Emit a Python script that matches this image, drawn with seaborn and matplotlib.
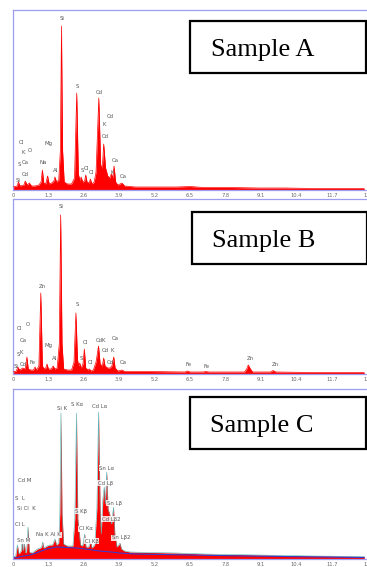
import numpy as np
import pandas as pd
import matplotlib
matplotlib.use("Agg")
import matplotlib.pyplot as plt
from matplotlib.patches import Rectangle
import seaborn as sns

sns.set_style("white")
plt.rcParams['font.family'] = ['DejaVu Sans']

# ---------------- data (energy keV, counts) ----------------
energy_A = [0.0, 0.15, 0.2, 0.26, 0.4, 0.45, 0.52, 0.6, 0.68, 0.8, 0.95, 1.03, 1.08, 1.13, 1.2,
            1.27, 1.33, 1.42, 1.5, 1.54, 1.6, 1.68, 1.74, 1.78, 1.82, 1.88, 2.0, 2.15, 2.26, 2.34,
            2.40, 2.46, 2.5, 2.56, 2.63, 2.67, 2.72, 2.8, 2.84, 2.9, 2.98, 3.05, 3.15, 3.22, 3.28,
            3.33, 3.4, 3.48, 3.55, 3.61, 3.66, 3.71, 3.77, 3.85, 4.0, 4.1, 4.5, 5.0, 6.0, 6.5, 7.0,
            8.0, 9.0, 10.0, 11.0, 12.9]
counts_A = [3, 4, 8, 4, 5, 9, 5, 7, 4, 4, 5, 8, 20, 7, 6,
            14, 6, 7, 9, 13, 8, 10, 40, 164, 40, 8, 6, 6, 12, 97,
            16, 9, 13, 8, 9, 15, 8, 7, 11, 6, 8, 18, 92, 25, 22,
            46, 22, 14, 12, 16, 12, 24, 8, 5, 7, 4, 3, 3, 3, 3.5, 2.5,
            2.5, 2, 2, 1.5, 1.5]

energy_B = [0.0, 0.12, 0.18, 0.24, 0.3, 0.36, 0.45, 0.51, 0.56, 0.65, 0.75, 0.81, 0.86, 0.95,
            1.02, 1.08, 1.15, 1.2, 1.25, 1.3, 1.4, 1.48, 1.53, 1.62, 1.7, 1.75, 1.8, 1.86, 2.0,
            2.15, 2.24, 2.31, 2.37, 2.41, 2.45, 2.5, 2.57, 2.62, 2.67, 2.76, 2.81, 2.86, 2.95,
            3.05, 3.14, 3.2, 3.28, 3.33, 3.38, 3.48, 3.56, 3.63, 3.7, 3.75, 3.85, 4.0, 4.1, 5.0,
            6.3, 6.41, 6.5, 7.0, 7.06, 7.2, 8.5, 8.58, 8.64, 8.72, 8.8, 9.45, 9.55, 9.65, 11.0, 12.9]
counts_B = [2, 3, 7, 4, 5, 6, 5, 17, 5, 4, 4, 7, 4, 8,
            81, 8, 5, 6, 10, 5, 5, 8, 5, 6, 30, 159, 30, 5, 4,
            4, 12, 61, 14, 8, 11, 6, 10, 25, 6, 4, 5, 3, 4,
            12, 28, 10, 8, 16, 8, 6, 6, 8, 17, 6, 3, 4, 2.5, 2.5,
            2, 3, 2, 2, 2.5, 2, 2, 5, 9, 5, 2, 2, 3.5, 2, 1.5, 1.5]

energy_C = [0.0, 0.1, 0.16, 0.22, 0.3, 0.33, 0.37, 0.41, 0.46, 0.5, 0.55, 0.6, 0.7, 0.8, 0.9,
            1.0, 1.05, 1.09, 1.13, 1.25, 1.35, 1.45, 1.54, 1.6, 1.68, 1.72, 1.76, 1.8, 1.86, 2.0,
            2.2, 2.27, 2.33, 2.38, 2.43, 2.48, 2.56, 2.63, 2.68, 2.78, 2.85, 2.9, 3.0, 3.08, 3.14,
            3.2, 3.24, 3.3, 3.35, 3.39, 3.44, 3.49, 3.55, 3.62, 3.69, 3.74, 3.82, 3.88, 3.93, 3.98,
            4.1, 4.3, 5.0, 6.0, 7.0, 8.0, 9.0, 10.0, 11.0, 12.9]
counts_C = [2, 3, 14, 5, 8, 19, 8, 17, 6, 8, 32, 7, 6, 8, 10,
            11, 12, 17, 11, 13, 14, 14, 20, 14, 16, 45, 146, 45, 15, 13,
            13, 40, 146, 40, 27, 14, 13, 25, 12, 12, 18, 11, 14, 50, 147,
            50, 25, 60, 72, 55, 87, 50, 45, 35, 52, 25, 12, 14, 16, 10,
            8, 7, 6.5, 6, 5, 4.5, 4, 3.5, 3, 2.5]

bg_energy_C = [0.05, 0.15, 0.3, 0.63, 0.9, 1.24, 1.6, 2.0, 2.33, 2.8, 3.18, 3.6, 3.9, 4.5, 5.5,
               6.5, 7.5, 8.5, 9.5, 10.5, 11.5, 12.9]
bg_counts_C = [1, 1.5, 2.5, 4, 6.5, 10, 12, 11.5, 11, 9.5, 8, 7, 6, 5, 4.5,
               4, 3.5, 3, 2.7, 2.3, 2, 1.5]

labels_A = [("Si", 1.81, 171), ("S", 2.38, 104), ("Cd", 3.18, 98), ("Cd", 3.58, 73),
            ("K", 3.36, 65), ("Cd", 3.40, 53), ("Ca", 3.76, 29), ("K", 3.64, 18),
            ("Ca", 4.05, 14), ("Cl", 0.29, 48), ("K", 0.37, 37), ("O", 0.63, 39),
            ("Mg", 1.32, 46), ("Na", 1.11, 27), ("S", 0.23, 25), ("Ca", 0.45, 27),
            ("Cd", 0.45, 15), ("Si", 0.19, 10), ("Al", 1.57, 20), ("S", 2.55, 19),
            ("Cl", 2.71, 22), ("Cl", 2.88, 17)]
labels_B = [("Si", 1.77, 167), ("Zn", 1.06, 88), ("S", 2.35, 69), ("Cl", 0.23, 45),
            ("O", 0.56, 50), ("Ca", 0.37, 33), ("Mg", 1.30, 29), ("S", 0.19, 20),
            ("K", 0.31, 22), ("Si", 0.10, 8), ("Cd", 0.39, 10), ("Fe", 0.72, 11),
            ("Al", 1.52, 15), ("Cl", 2.66, 32), ("CdK", 3.24, 33), ("Ca", 3.75, 36),
            ("Cd", 3.37, 23), ("K", 3.64, 23), ("S", 2.51, 15), ("Cl", 2.85, 12),
            ("Cd", 3.57, 12), ("Ca", 4.05, 11), ("Fe", 6.43, 9), ("Fe", 7.09, 8),
            ("Zn", 8.71, 15), ("Zn", 9.62, 10)]
labels_C = [("Si K", 1.80, 150), ("S Kα", 2.37, 155), ("Cd Lα", 3.18, 153), ("Cd M", 0.43, 78),
            ("S  L", 0.24, 61), ("Si Cl  K", 0.49, 50), ("Cl L", 0.27, 35), ("Sn M", 0.39, 18),
            ("Na K Al K", 1.31, 24), ("S Kβ", 2.51, 48), ("Cl Kα", 2.68, 30),
            ("Cl Kβ", 2.89, 18), ("Sn Lα", 3.44, 91), ("Cd Lβ", 3.39, 76),
            ("Sn Lβ", 3.72, 56), ("Cd Lβ2", 3.60, 40), ("Sn Lβ2", 3.97, 21)]

tick_values = [0, 1.3, 2.6, 3.9, 5.2, 6.5, 7.8, 9.1, 10.4, 11.7, 13]
tick_labels = ["0", "1.3", "2.6", "3.9", "5.2", "6.5", "7.8", "9.1", "10.4", "11.7", "13"]
sample_names = ["Sample A", "Sample B", "Sample C"]

# ---------------- layout (pixels) ----------------
W, H = 367, 567
fig = plt.figure(figsize=(W / 100, H / 100), dpi=100)

def px_axes(left, top, right, bottom):
    return fig.add_axes([left / W, 1 - bottom / H, (right - left) / W, (bottom - top) / H])

panels = [
    dict(box=(13, 10, 367, 190), ymax=180, E=energy_A, C=counts_A, labels=labels_A,
         rect=(190, 21, 366, 73), text=(263, 56)),
    dict(box=(13, 199, 367, 374), ymax=175, E=energy_B, C=counts_B, labels=labels_B,
         rect=(192, 212, 367, 264), text=(264, 247)),
    dict(box=(13, 389, 367, 559), ymax=170, E=energy_C, C=counts_C, labels=labels_C,
         rect=(190, 397, 366, 449), text=(262, 432)),
]

spine_col = "#9d9df2"
xmax = (367 - 12.6) / 27.5

for i, p in enumerate(panels):
    ax = px_axes(*p["box"])
    df = pd.DataFrame({"energy": p["E"], "counts": p["C"]})
    ax.fill_between(df["energy"], df["counts"], 0, color="#ff0000", lw=0, zorder=2)
    line_col = "#55b3b3" if i == 2 else "#ff0000"
    sns.lineplot(data=df, x="energy", y="counts", ax=ax, color=line_col,
                 lw=0.4 if i == 2 else 0.5, estimator=None, sort=True, zorder=3)
    if i == 2:
        bg = pd.DataFrame({"energy": bg_energy_C, "counts": bg_counts_C})
        sns.lineplot(data=bg, x="energy", y="counts", ax=ax, color="#3a3acc", lw=0.8,
                     estimator=None, zorder=4)
    for txt, ex, cy in p["labels"]:
        kw = {}
        if i == 2:
            kw = dict(bbox=dict(boxstyle="square,pad=0.1", fc="white", ec="none", alpha=0.85))
        ax.text(ex, cy, txt, fontsize=3.9, color="#555555", ha="center", va="center",
                zorder=5, **kw)
    ax.set_xlim(0, xmax)
    ax.set_ylim(0, p["ymax"])
    ax.set_xticks(tick_values)
    ax.set_xticklabels(tick_labels)
    ax.set_yticks([])
    ax.set_xlabel("")
    ax.set_ylabel("")
    ax.tick_params(axis="x", length=0, pad=2, labelsize=3.7, labelcolor="#666666")
    for s in ["left", "top", "bottom"]:
        ax.spines[s].set_visible(True)
        ax.spines[s].set_color(spine_col)
        ax.spines[s].set_linewidth(0.9)
    ax.spines["right"].set_visible(False)
    ax.set_facecolor("white")

    x0, y0, x1, y1 = p["rect"]
    fig.patches.append(Rectangle((x0 / W, 1 - y1 / H), (x1 - x0) / W, (y1 - y0) / H,
                                 transform=fig.transFigure, fill=True, fc="white",
                                 ec="black", lw=1.6, zorder=10))
    tx, ty = p["text"]
    fig.text(tx / W, 1 - ty / H, sample_names[i], ha="center", va="baseline",
             fontsize=19, family=["Liberation Serif", "DejaVu Serif"], color="black",
             zorder=11)

fig.savefig("out.png", dpi=100)
